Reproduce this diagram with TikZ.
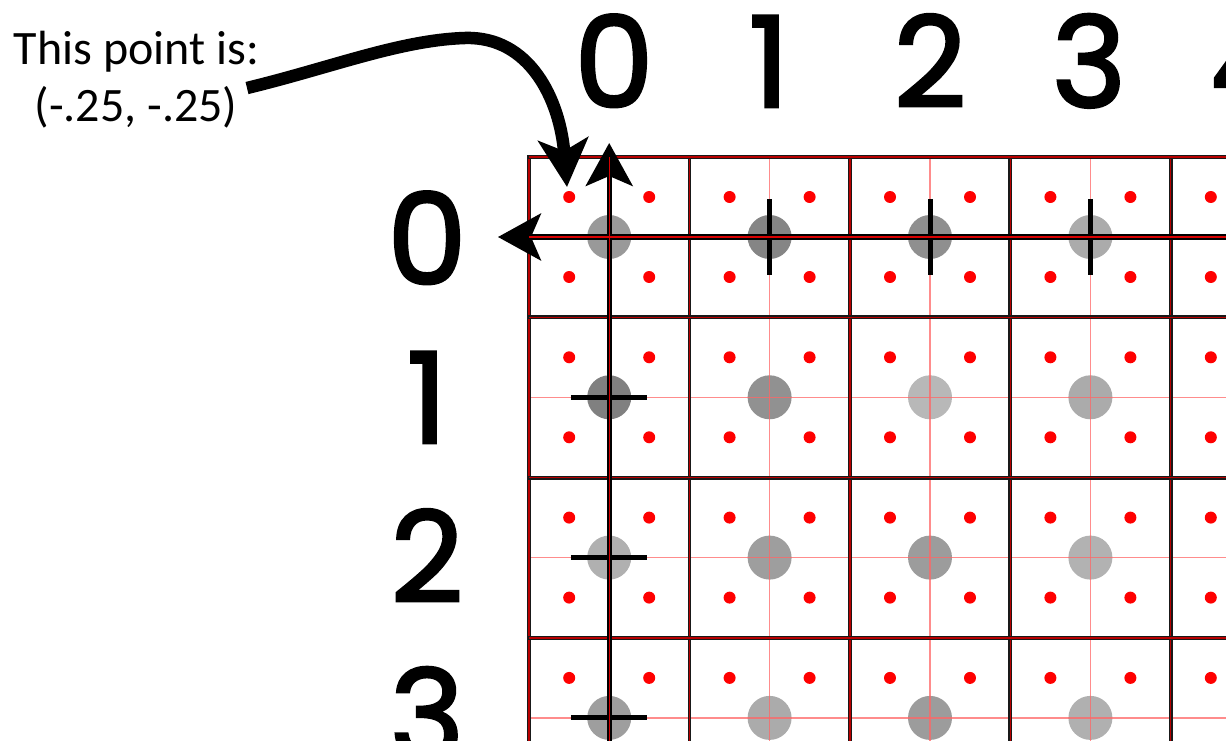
\documentclass[tikz,border=0pt]{standalone}
\usepackage{fontspec}
\usetikzlibrary{arrows.meta}
\newfontfamily\labfont{Poppins}[FakeBold=2.3]
\newfontfamily\txtfont{Carlito}
\definecolor{gridred}{RGB}{185,0,0}
\tikzset{
  cellline/.style={line width=3.8pt, black!90},
  cellcore/.style={line width=1.4pt, gridred},
  axisline/.style={line width=5.2pt, black},
  axiscore/.style={line width=1.4pt, red!85!black},
  thinred/.style={line width=1.5pt, red!60, opacity=0.75},
  tickmark/.style={line width=5pt, black},
  reddot/.style={fill=red},
  biglabel/.style={font=\labfont\fontsize{126}{126}\selectfont, inner sep=0pt, anchor=base},
  note/.style={font=\txtfont\fontsize{48}{57}\selectfont, inner sep=0pt, anchor=base},
  axisarrow/.style={-{Stealth[length=43pt,width=47pt,inset=10pt]}},
  pointer/.style={line width=12.5pt, -{Stealth[length=48pt,width=50pt,inset=12pt]}}
}
\begin{document}
\begin{tikzpicture}[x=1pt,y=-1pt]
\useasboundingbox (0,0) rectangle (1226,741);
\clip (0,0) rectangle (1226,741);

% gray pixel circles
\foreach \k/\r/\g in {0/0/40, 1/0/48, 2/0/44, 3/0/33,
                      0/1/50, 1/1/43, 2/1/28, 3/1/33,
                      0/2/31, 1/2/38, 2/2/39, 3/2/30,
                      0/3/38, 1/3/33, 2/3/39, 3/3/31}
  \fill[black!\g] ({609.2+\k*160.4},{237+\r*160.3}) circle[radius=22];

% thin red centre lines
\foreach \k in {1,2,3,4}
  \draw[thinred] ({609.2+\k*160.4},157) -- ({609.2+\k*160.4},741);
\foreach \r in {1,2,3}
  \draw[thinred] (529,{237+\r*160.3}) -- (1226,{237+\r*160.3});

% tick marks
\foreach \k in {1,2,3}
  \draw[tickmark] ({609.2+\k*160.4},199) -- ({609.2+\k*160.4},275);
\foreach \r in {1,2,3}
  \draw[tickmark] (571,{237+\r*160.3}) -- (647,{237+\r*160.3});

% red sample dots
\foreach \k in {0,...,4}
  \foreach \r in {0,...,3}
    \foreach \dx in {-40,40}
      \foreach \dy in {-40,40}
        \fill[reddot] ({609.2+\k*160.4+\dx},{237+\r*160.3+\dy}) circle[radius=6];

% cell boundaries
\foreach \k in {0,...,4} {
  \draw[cellline] ({529+\k*160.4},155.1) -- ({529+\k*160.4},741);
  \draw[cellcore] ({529+\k*160.4},157) -- ({529+\k*160.4},741);
}
\foreach \r in {0,...,3} {
  \draw[cellline] (527.1,{157+\r*160.3}) -- (1226,{157+\r*160.3});
  \draw[cellcore] (529,{157+\r*160.3}) -- (1226,{157+\r*160.3});
}

% axes
\coordinate (ybot) at (609.2,745);
\coordinate (ytop) at (609.2,143);
\coordinate (xright) at (1230,237);
\coordinate (xleft) at (498,237);
\draw[axisline, axisarrow] (ybot) -- (ytop);
\draw[axisline, axisarrow] (xright) -- (xleft);
\draw[axiscore] (609.2,157) -- (ybot);
\draw[axiscore] (529,237) -- (xright);

% column labels
\node[biglabel] (c0) at (614,107) {0};
\node[biglabel] (c1) at (769,107) {1};
\node[biglabel] (c2) at (930,107) {2};
\node[biglabel] (c3) at (1089,107) {3};
\node[biglabel] (c4) at (1250,107) {4};

% row labels
\node[biglabel] (r0) at (427,284) {0};
\node[biglabel] (r1) at (427,443) {1};
\node[biglabel] (r2) at (427,602) {2};
\node[biglabel] (r3) at (427,760) {3};

% annotation
\node[note] (t1) at (136.5,65) {This point is:};
\node[note] (t2) at (136,122) {(-.25, -.25)};
\coordinate (pstart) at (247,88);
\coordinate (ptip) at (567,187);
\draw[pointer] (pstart) .. controls (330,68) and (400,40) .. (465,38)
  .. controls (530,36) and (560,100) .. (ptip);
\end{tikzpicture}
\end{document}
